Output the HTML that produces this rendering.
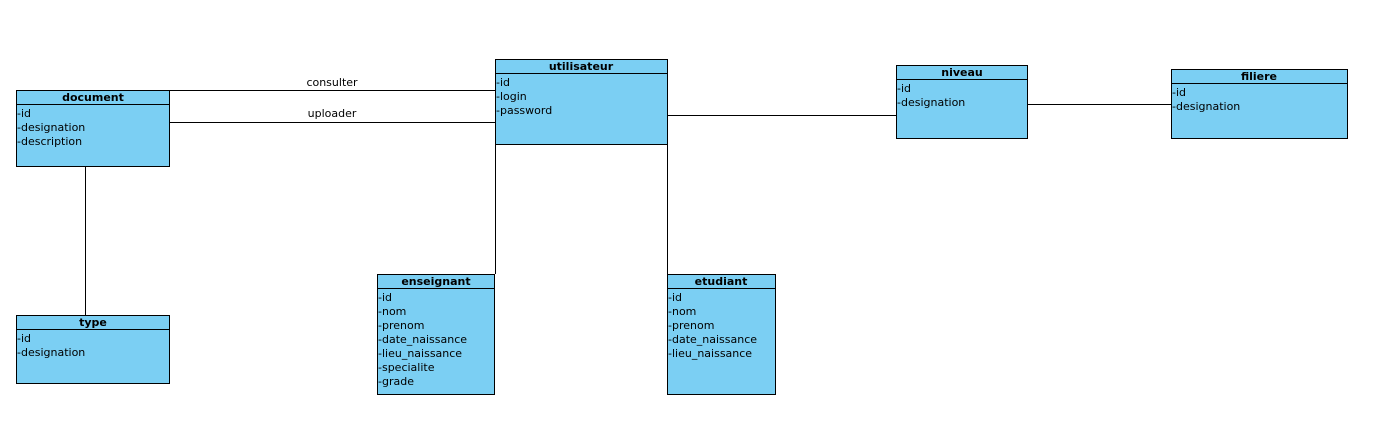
<!DOCTYPE html>
<html><head><style>body{margin:0;background:#fff}</style></head><body>
<svg width="1387" height="442" xmlns="http://www.w3.org/2000/svg" font-family="DejaVu Sans, sans-serif" font-size="11">
<g stroke="#000" stroke-width="1" fill="none">
<line x1="170" y1="90.5" x2="495" y2="90.5"/>
<line x1="170" y1="122.5" x2="495" y2="122.5"/>
<line x1="668" y1="115.5" x2="896" y2="115.5"/>
<line x1="1028" y1="104.5" x2="1171" y2="104.5"/>
<line x1="85.5" y1="167" x2="85.5" y2="315"/>
<line x1="495.5" y1="145" x2="495.5" y2="274"/>
<line x1="667.5" y1="145" x2="667.5" y2="274"/>
</g>
<text x="332" y="86" text-anchor="middle">consulter</text>
<text x="332" y="117" text-anchor="middle">uploader</text>
<g fill="#7bcff3" stroke="#000" stroke-width="1">
<rect x="16.5" y="90.5" width="153" height="76"/><line x1="16" y1="104.5" x2="170" y2="104.5"/>
<rect x="495.5" y="59.5" width="172" height="85"/><line x1="495" y1="73.5" x2="668" y2="73.5"/>
<rect x="896.5" y="65.5" width="131" height="73"/><line x1="896" y1="79.5" x2="1028" y2="79.5"/>
<rect x="1171.5" y="69.5" width="176" height="69"/><line x1="1171" y1="83.5" x2="1348" y2="83.5"/>
<rect x="16.5" y="315.5" width="153" height="68"/><line x1="16" y1="329.5" x2="170" y2="329.5"/>
<rect x="377.5" y="274.5" width="117" height="120"/><line x1="377" y1="288.5" x2="495" y2="288.5"/>
<rect x="667.5" y="274.5" width="108" height="120"/><line x1="667" y1="288.5" x2="776" y2="288.5"/>
</g>
<g font-weight="bold" text-anchor="middle">
<text x="93" y="101">document</text>
<text x="581" y="70">utilisateur</text>
<text x="962" y="76">niveau</text>
<text x="1259" y="80">filiere</text>
<text x="93" y="326">type</text>
<text x="436" y="285">enseignant</text>
<text x="721" y="285">etudiant</text>
</g>
<g>
<text x="17" y="117">-id</text><text x="17" y="131">-designation</text><text x="17" y="145">-description</text>
<text x="496" y="86">-id</text><text x="496" y="100">-login</text><text x="496" y="114">-password</text>
<text x="897" y="92">-id</text><text x="897" y="106">-designation</text>
<text x="1172" y="96">-id</text><text x="1172" y="110">-designation</text>
<text x="17" y="342">-id</text><text x="17" y="356">-designation</text>
<text x="378" y="301">-id</text><text x="378" y="315">-nom</text><text x="378" y="329">-prenom</text><text x="378" y="343">-date_naissance</text><text x="378" y="357">-lieu_naissance</text><text x="378" y="371">-specialite</text><text x="378" y="385">-grade</text>
<text x="668" y="301">-id</text><text x="668" y="315">-nom</text><text x="668" y="329">-prenom</text><text x="668" y="343">-date_naissance</text><text x="668" y="357">-lieu_naissance</text>
</g>
</svg>
</body></html>
